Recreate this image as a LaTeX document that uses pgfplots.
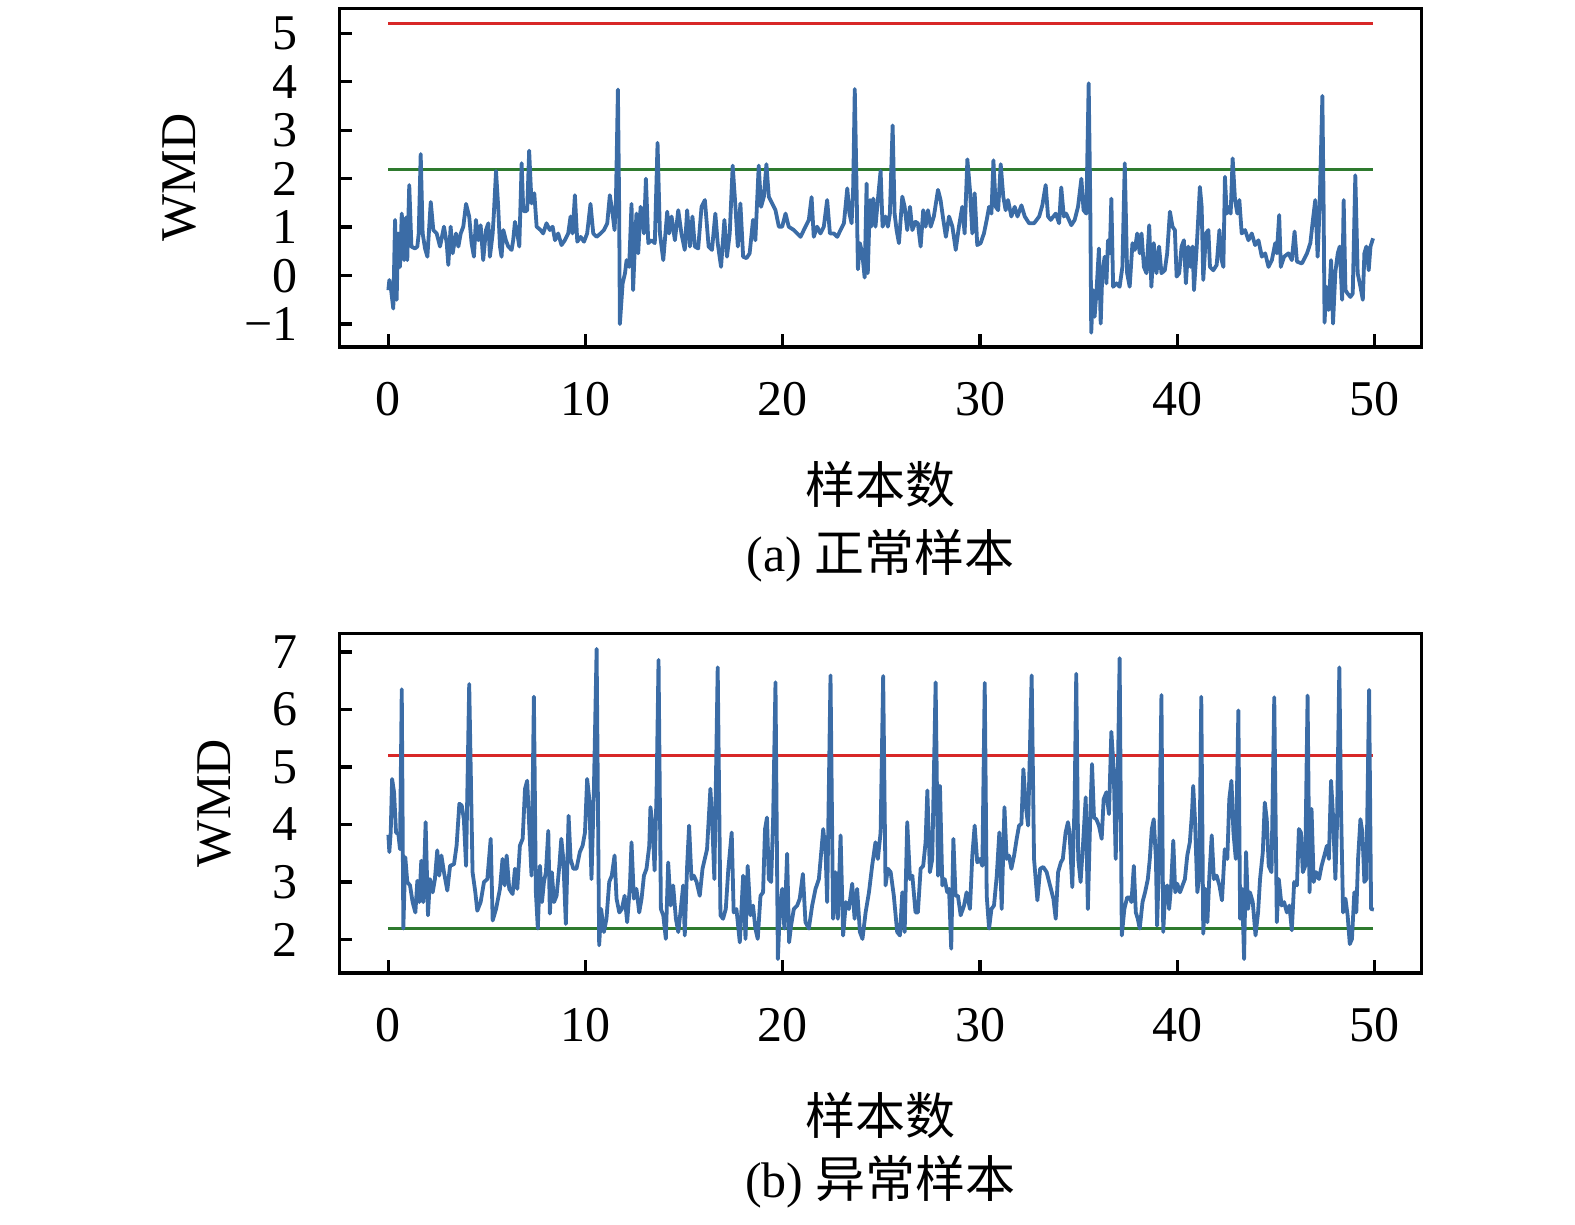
\documentclass[border=0pt]{standalone}
\usepackage{pgfplots}
\pgfplotsset{compat=1.18}
\usepackage{pgfplotstable}
\usepackage{fontspec}
\setmainfont{Liberation Serif}
\newfontfamily\cjk{Noto Sans CJK SC}
\definecolor{lineblue}{RGB}{59,108,166}
\definecolor{lred}{RGB}{216,40,40}
\definecolor{lgreen}{RGB}{46,122,46}

\pgfplotstableread{
x y
0 -0.30
0.05 -0.09
0.14 -0.30
0.25 -0.68
0.34 1.15
0.42 -0.50
0.50 0.87
0.59 0.18
0.68 1.28
0.80 0.32
0.90 1.20
0.96 0.32
1.06 1.87
1.17 0.60
1.35 0.56
1.47 0.60
1.54 0.87
1.64 2.51
1.74 0.87
1.86 0.56
1.98 0.39
2.15 1.52
2.28 0.94
2.45 0.87
2.62 0.60
2.82 1.01
2.96 0.67
3.04 0.22
3.16 1.01
3.26 0.46
3.43 0.87
3.55 0.60
3.67 0.87
3.80 1.01
3.94 1.48
4.10 1.22
4.22 0.67
4.34 0.39
4.44 1.15
4.56 0.73
4.68 1.04
4.81 0.32
4.95 0.94
5.07 1.08
5.15 0.39
5.29 0.87
5.35 1.28
5.46 2.16
5.57 1.42
5.66 0.60
5.74 0.39
5.83 0.94
5.96 0.73
6.08 0.60
6.25 0.53
6.33 0.73
6.42 1.11
6.54 0.87
6.64 0.60
6.76 2.32
6.84 1.35
6.93 1.32
7.04 1.35
7.14 2.58
7.26 1.49
7.40 1.70
7.52 1.01
7.72 0.94
7.85 0.87
8.02 1.08
8.19 0.94
8.33 1.01
8.45 0.73
8.61 0.87
8.78 0.63
8.95 0.73
9.12 0.87
9.24 1.22
9.34 0.87
9.46 1.66
9.58 0.70
9.75 0.80
9.92 0.70
10.08 0.87
10.25 1.48
10.39 0.87
10.56 0.80
10.76 0.87
10.93 0.94
11.10 1.08
11.23 1.66
11.37 1.28
11.47 0.94
11.54 1.56
11.64 3.84
11.70 1.56
11.74 -1.00
11.88 -0.16
12.00 0.05
12.08 0.32
12.21 0.18
12.33 1.48
12.41 -0.30
12.50 0.60
12.58 1.28
12.67 0.46
12.79 1.42
12.89 1.28
12.96 0.87
13.06 2.00
13.18 0.67
13.34 0.73
13.51 0.67
13.65 2.74
13.77 0.87
13.94 0.32
14.14 1.32
14.24 0.87
14.36 1.22
14.53 0.73
14.70 1.35
14.86 0.87
15.03 0.53
15.15 1.35
15.29 0.60
15.42 1.22
15.54 0.60
15.71 0.56
15.88 1.42
16.05 1.56
16.24 0.60
16.41 0.53
16.58 1.28
16.70 0.67
16.87 0.18
17.04 1.15
17.17 0.39
17.31 0.87
17.46 2.27
17.60 1.42
17.72 0.60
17.85 1.49
17.99 0.39
18.16 0.36
18.32 0.46
18.49 1.15
18.61 0.73
18.78 2.27
18.90 1.42
19.04 1.63
19.17 2.30
19.29 1.63
19.46 1.49
19.63 1.35
19.80 1.01
19.97 1.01
20.14 1.28
20.30 1.01
20.56 0.94
20.90 0.80
21.15 1.01
21.32 1.15
21.46 1.62
21.57 0.80
21.74 1.01
21.91 0.87
22.08 1.01
22.25 1.56
22.39 0.87
22.59 0.87
22.76 0.80
22.93 0.94
23.10 1.08
23.27 1.80
23.38 1.28
23.49 1.08
23.57 1.83
23.65 3.85
23.74 1.83
23.81 0.13
23.91 0.67
24.03 0.46
24.15 -0.04
24.25 1.90
24.31 0.05
24.42 1.56
24.48 1.01
24.59 1.59
24.70 1.01
24.82 1.56
24.96 2.16
25.06 1.01
25.21 1.22
25.33 1.01
25.43 1.28
25.57 3.10
25.67 1.28
25.77 0.94
25.89 0.67
26.06 1.63
26.18 1.42
26.31 0.94
26.45 1.42
26.57 0.94
26.73 1.11
26.85 1.08
26.99 0.60
27.12 1.35
27.24 1.01
27.36 1.35
27.50 1.01
27.66 1.22
27.87 1.77
28.00 1.56
28.14 1.15
28.27 0.80
28.43 1.22
28.60 1.01
28.77 0.53
28.93 1.01
29.10 1.42
29.22 0.87
29.36 2.40
29.49 1.77
29.61 0.87
29.73 1.70
29.86 0.63
30.03 0.67
30.20 0.87
30.34 1.15
30.46 1.42
30.58 1.28
30.68 2.38
30.80 1.42
30.92 1.35
31.05 2.30
31.18 1.63
31.30 1.35
31.42 1.56
31.59 1.22
31.76 1.42
31.90 1.22
32.10 1.45
32.27 1.22
32.49 1.08
32.74 1.08
33.00 1.22
33.16 1.45
33.33 1.87
33.45 1.22
33.59 1.15
33.72 1.22
33.84 1.28
34.01 1.08
34.12 1.82
34.25 1.22
34.37 1.28
34.63 1.04
34.80 1.15
34.97 1.42
35.14 2.00
35.25 1.35
35.39 1.28
35.51 3.97
35.59 1.56
35.64 -1.18
35.73 -0.30
35.81 -0.85
35.90 -0.37
36.03 0.56
36.12 -0.99
36.20 0.05
36.32 0.39
36.41 -0.16
36.49 0.73
36.58 0.46
36.66 1.59
36.75 -0.23
36.92 -0.16
37.08 -0.23
37.22 0.18
37.34 2.32
37.46 0.05
37.59 -0.23
37.73 0.67
37.85 0.53
37.97 0.87
38.10 0.46
38.19 0.87
38.31 0.18
38.44 0.05
38.58 1.04
38.69 -0.23
38.81 0.67
38.95 0.05
39.08 0.60
39.20 0.05
39.37 0.11
39.49 0.46
39.63 1.32
39.76 1.01
39.88 0.94
39.97 -0.02
40.10 0.05
40.22 0.60
40.34 0.73
40.44 -0.16
40.56 0.60
40.68 0.18
40.78 0.60
40.85 -0.30
40.98 0.53
41.15 1.83
41.24 1.42
41.32 -0.09
41.46 0.87
41.58 0.94
41.66 0.18
41.83 0.11
42.00 0.22
42.14 0.94
42.25 0.32
42.34 0.18
42.42 2.04
42.51 1.28
42.63 1.42
42.71 1.28
42.81 2.42
42.93 1.56
43.05 1.28
43.15 1.56
43.27 0.87
43.44 0.94
43.61 0.73
43.78 0.87
43.95 0.63
44.12 0.73
44.29 0.39
44.46 0.46
44.63 0.18
44.80 0.32
44.97 0.67
45.05 0.46
45.17 1.25
45.25 0.18
45.42 0.39
45.64 0.46
45.81 0.32
45.95 0.91
46.07 0.29
46.32 0.25
46.58 0.46
46.75 0.67
46.88 1.15
47.00 1.56
47.12 0.39
47.22 1.42
47.36 3.71
47.42 1.56
47.47 -0.97
47.56 -0.23
47.68 -0.71
47.80 0.32
47.90 -0.99
48.02 0.08
48.14 0.46
48.24 0.60
48.36 -0.50
48.44 1.56
48.53 -0.30
48.64 -0.37
48.78 -0.44
48.90 -0.37
49.03 2.07
49.15 0.05
49.29 -0.23
49.41 -0.50
49.49 0.46
49.59 0.60
49.71 0.11
49.80 0.60
49.93 0.77
}\normaldata

\pgfplotstableread{
x y
0 3.82
0.05 3.52
0.12 3.86
0.19 4.79
0.29 4.56
0.39 3.86
0.51 3.83
0.59 3.57
0.68 6.35
0.76 2.19
0.86 3.43
0.96 3.00
1.10 2.94
1.23 2.65
1.37 2.47
1.47 3.02
1.57 2.65
1.67 3.37
1.77 2.65
1.89 4.04
2.01 2.42
2.11 3.05
2.25 2.82
2.36 3.05
2.48 3.55
2.58 3.11
2.69 3.46
2.82 3.17
2.99 2.85
3.13 3.28
3.33 3.31
3.46 3.63
3.60 4.36
3.72 4.33
3.83 4.09
3.94 3.28
4.10 6.44
4.27 3.17
4.41 2.82
4.51 2.50
4.68 2.65
4.85 3.00
5.02 3.05
5.19 3.75
5.29 2.33
5.46 2.53
5.66 2.88
5.79 3.40
5.90 2.94
6.00 3.46
6.13 2.88
6.30 2.79
6.42 3.23
6.54 2.88
6.67 3.63
6.81 3.75
6.93 4.62
7.04 4.76
7.15 3.92
7.26 3.11
7.38 6.22
7.48 2.82
7.58 2.19
7.69 3.28
7.79 2.65
7.89 3.00
7.99 3.17
8.11 3.89
8.19 2.45
8.29 3.17
8.40 2.65
8.53 2.76
8.67 3.28
8.77 3.75
8.87 3.40
9.00 2.27
9.14 4.15
9.24 3.40
9.38 3.23
9.54 3.23
9.71 3.52
9.85 3.63
9.97 3.86
10.08 4.79
10.19 4.44
10.30 3.05
10.42 4.56
10.56 7.05
10.69 1.90
10.79 2.53
10.93 2.13
11.06 2.36
11.20 3.00
11.33 3.11
11.47 3.46
11.57 2.71
11.71 2.47
11.84 2.53
11.98 2.76
12.11 2.30
12.25 2.94
12.33 3.69
12.45 2.71
12.58 2.88
12.72 2.47
12.84 2.71
12.96 3.11
13.09 3.23
13.23 3.63
13.29 4.30
13.40 3.98
13.50 3.20
13.60 4.56
13.70 6.86
13.82 2.53
13.94 2.42
14.07 2.01
14.19 3.34
14.31 2.59
14.44 2.94
14.58 2.36
14.70 2.13
14.81 2.47
14.95 2.94
15.03 2.07
15.15 3.28
15.25 3.98
15.37 3.05
15.49 3.11
15.63 3.00
15.79 2.76
15.93 3.23
16.16 3.57
16.33 4.62
16.43 3.98
16.53 3.05
16.70 6.73
16.84 2.42
16.97 2.36
17.11 2.53
17.24 3.23
17.41 3.86
17.51 2.47
17.65 2.53
17.82 1.95
17.99 3.11
18.11 2.01
18.22 3.28
18.36 2.42
18.49 2.59
18.61 2.19
18.73 2.01
18.87 2.76
19.00 2.82
19.10 3.92
19.20 4.12
19.29 3.05
19.41 3.00
19.51 4.09
19.63 6.47
19.75 1.66
19.85 2.47
19.97 2.88
20.08 2.19
20.22 3.49
20.32 1.95
20.42 2.24
20.56 2.53
20.73 2.59
20.86 2.71
21.02 3.14
21.15 2.30
21.32 2.19
21.49 2.59
21.66 2.88
21.83 3.05
21.95 3.52
22.05 3.92
22.17 3.52
22.25 2.65
22.42 6.59
22.55 2.36
22.67 3.17
22.79 2.36
22.93 3.81
23.06 2.07
23.20 2.65
23.35 2.53
23.52 2.97
23.64 2.36
23.77 2.88
23.91 2.13
24.04 2.01
24.20 2.47
24.37 2.82
24.53 3.28
24.70 3.69
24.82 3.40
24.96 3.86
25.09 6.58
25.21 2.94
25.33 3.23
25.47 3.17
25.63 2.76
25.80 2.13
25.94 2.07
26.06 2.82
26.18 2.13
26.31 4.04
26.45 3.05
26.57 3.11
26.73 2.47
26.85 2.47
26.99 3.23
27.12 3.28
27.24 3.69
27.33 4.59
27.46 3.17
27.58 3.40
27.75 6.47
27.87 3.11
27.97 4.67
28.09 2.94
28.21 3.05
28.34 2.82
28.43 2.88
28.54 1.84
28.65 3.75
28.76 2.76
28.88 2.76
29.02 2.42
29.19 2.59
29.32 2.82
29.49 2.53
29.61 3.46
29.73 3.98
29.86 3.34
30.00 3.40
30.12 3.28
30.24 6.46
30.34 2.76
30.46 2.19
30.58 2.53
30.71 2.59
30.85 3.11
30.98 3.86
31.10 2.53
31.24 4.30
31.35 3.40
31.47 3.46
31.59 3.23
31.73 3.46
31.86 3.75
31.98 3.98
32.10 4.01
32.20 4.96
32.32 4.33
32.44 3.98
32.62 6.59
32.74 3.40
32.91 2.68
33.05 3.23
33.21 3.26
33.38 3.17
33.55 2.94
33.72 2.71
33.84 2.36
33.96 3.17
34.10 3.34
34.20 3.40
34.34 3.86
34.46 4.04
34.54 3.86
34.68 2.91
34.80 4.44
34.88 6.62
34.98 3.40
35.10 3.00
35.22 3.63
35.36 4.47
35.47 2.53
35.59 4.15
35.68 5.05
35.78 4.12
35.90 4.09
36.03 3.98
36.17 3.75
36.27 4.44
36.41 4.56
36.54 4.18
36.66 5.61
36.78 4.96
36.88 3.40
37.00 5.08
37.08 6.89
37.19 2.07
37.32 2.53
37.46 2.73
37.59 2.73
37.68 2.65
37.80 3.28
37.90 2.47
38.00 2.36
38.10 2.19
38.24 2.65
38.37 2.82
38.51 3.05
38.61 3.40
38.71 3.92
38.81 4.09
38.92 3.40
38.98 2.24
39.08 3.40
39.20 6.25
39.29 2.13
39.39 2.82
39.49 2.94
39.59 2.53
39.69 2.94
39.80 3.72
39.90 2.82
40.00 2.97
40.14 2.82
40.27 2.94
40.39 3.05
40.51 3.46
40.64 3.69
40.75 4.21
40.81 4.67
40.90 4.09
41.02 2.82
41.12 3.11
41.22 6.22
41.32 2.10
41.42 2.88
41.53 2.30
41.63 3.11
41.75 3.81
41.86 3.05
42.00 3.11
42.14 2.94
42.27 2.68
42.41 3.57
42.54 3.40
42.64 4.44
42.75 4.76
42.85 3.86
42.97 3.40
43.10 5.98
43.19 2.36
43.29 2.88
43.39 1.66
43.49 3.52
43.59 2.53
43.69 2.82
43.83 2.65
43.97 2.07
44.10 2.47
44.20 3.05
44.34 3.52
44.44 4.38
44.54 4.09
44.64 3.28
44.78 3.17
44.92 6.21
45.05 2.30
45.15 3.05
45.29 2.59
45.42 2.65
45.56 2.47
45.69 2.59
45.81 2.16
45.93 3.00
46.07 2.94
46.17 3.92
46.27 3.86
46.37 3.17
46.49 3.28
46.61 6.24
46.71 2.82
46.81 4.27
46.92 3.00
47.05 3.17
47.19 3.05
47.32 3.28
47.46 3.46
47.59 3.63
47.69 3.40
47.80 4.76
47.90 4.15
48.02 3.05
48.10 3.98
48.22 6.73
48.31 4.21
48.41 2.47
48.53 2.71
48.64 2.42
48.75 1.92
48.86 2.01
48.98 2.82
49.08 2.47
49.17 3.40
49.29 4.09
49.39 3.86
49.49 3.00
49.59 3.05
49.73 6.34
49.83 2.53
49.97 2.52
}\abnormaldata

\pgfplotsset{
  wmdaxis/.style={
    scale only axis,
    width=270.6pt,
    xmin=-2.49, xmax=52.4,
    xtick={0,10,20,30,40,50},
    tick align=inside,
    xtick pos=left, ytick pos=left,
    axis line style={line width=0.85pt, black},
    every tick/.style={black, line width=0.85pt},
    major tick length=3.3pt,
    /pgf/number format/assume math mode=true,
    tick label style={font=\fontsize{12.5}{15}\selectfont},
    xticklabel style={inner sep=0pt, anchor=north, yshift=-8.75pt},
    yticklabel style={inner sep=0pt, anchor=east, xshift=-10.25pt},
    label style={font=\fontsize{12.5}{15}\selectfont},
    xlabel={\cjk 样本数},
    ylabel={WMD},
    clip=true,
  },
  dataline/.style={lineblue, line width=0.95pt, line join=round, mark=none},
  redline/.style={lred, line width=0.9pt, mark=none},
  greenline/.style={lgreen, line width=0.9pt, mark=none},
}

\begin{document}
\begin{tikzpicture}
\useasboundingbox (-84.8pt,2.08pt) rectangle (308.9pt,-303.9pt);

\begin{axis}[wmdaxis, name=axA,
  at={(0pt,0pt)}, anchor=north west,
  height=84.6pt,
  ymin=-1.469, ymax=5.516,
  ytick={-1,0,1,2,3,4,5},
  yticklabels={−1,0,1,2,3,4,5},
  xlabel style={at={(axis description cs:0.5,0)}, anchor=center, yshift=-34.4pt},
  ylabel style={at={(axis description cs:-0.1471,0.5)}, anchor=center},
]
\addplot[redline] coordinates {(0,5.2) (49.95,5.2)};
\addplot[greenline] coordinates {(0,2.19) (49.95,2.19)};
\addplot[dataline] table[x=x,y=y] {\normaldata};
\end{axis}
\node[font=\fontsize{12.5}{15}\selectfont, anchor=center] at ([yshift=-52.25pt]axA.south) {(a) {\cjk 正常样本}};

\begin{axis}[wmdaxis, name=axB,
  at={(0pt,-156.25pt)}, anchor=north west,
  height=84.85pt,
  ymin=1.42, ymax=7.32,
  ytick={2,3,4,5,6,7},
  yticklabels={2,3,4,5,6,7},
  xlabel style={at={(axis description cs:0.5,0)}, anchor=center, yshift=-35.6pt},
  ylabel style={at={(axis description cs:-0.1149,0.5)}, anchor=center},
]
\addplot[redline] coordinates {(0,5.2) (49.95,5.2)};
\addplot[greenline] coordinates {(0,2.19) (49.95,2.19)};
\addplot[dataline] table[x=x,y=y] {\abnormaldata};
\end{axis}
\node[font=\fontsize{12.5}{15}\selectfont, anchor=center] at ([yshift=-52.25pt]axB.south) {(b) {\cjk 异常样本}};
\end{tikzpicture}
\end{document}
